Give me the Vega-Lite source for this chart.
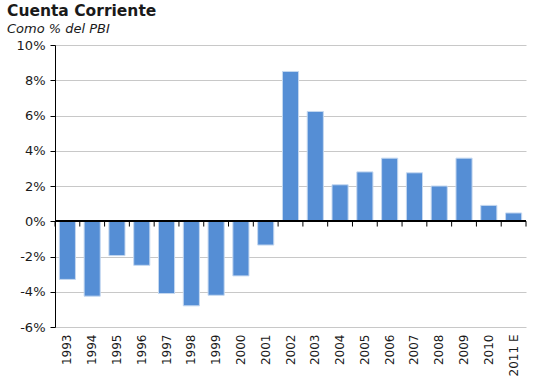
{
  "$schema": "https://vega.github.io/schema/vega-lite/v6.json",
  "width": 471,
  "height": 282,
  "autosize": "none",
  "padding": {"left": 55, "top": 45, "right": 7, "bottom": 63},
  "background": "white",
  "title": {
    "text": "Cuenta Corriente",
    "subtitle": "Como % del PBI",
    "anchor": "start",
    "frame": "group",
    "dx": -48,
    "offset": 3,
    "font": "DejaVu Sans",
    "fontSize": 15.5,
    "fontWeight": "bold",
    "color": "#1a1a1a",
    "subtitleFont": "DejaVu Sans",
    "subtitleFontSize": 13,
    "subtitleFontStyle": "italic",
    "subtitleColor": "#1a1a1a",
    "subtitlePadding": 4
  },
  "config": {
    "view": {"stroke": null},
    "axis": {"labelFont": "DejaVu Sans", "labelFontSize": 12, "labelColor": "#1a1a1a"}
  },
  "data": {
    "values": [
      {"year": "1993", "value": -3.3},
      {"year": "1994", "value": -4.25},
      {"year": "1995", "value": -1.95},
      {"year": "1996", "value": -2.5},
      {"year": "1997", "value": -4.1},
      {"year": "1998", "value": -4.8},
      {"year": "1999", "value": -4.2},
      {"year": "2000", "value": -3.1},
      {"year": "2001", "value": -1.35},
      {"year": "2002", "value": 8.5},
      {"year": "2003", "value": 6.23},
      {"year": "2004", "value": 2.07},
      {"year": "2005", "value": 2.8},
      {"year": "2006", "value": 3.58},
      {"year": "2007", "value": 2.75},
      {"year": "2008", "value": 2.0},
      {"year": "2009", "value": 3.58},
      {"year": "2010", "value": 0.9},
      {"year": "2011 E", "value": 0.47}
    ]
  },
  "encoding": {
    "x": {
      "field": "year", "type": "nominal", "sort": null,
      "scale": {"paddingInner": 0, "paddingOuter": 0},
      "axis": {"title": null, "domain": false, "ticks": false, "grid": false, "labelAngle": -90, "labelAlign": "right", "labelBaseline": "middle", "labelPadding": 7, "labelOverlap": false}
    }
  },
  "layer": [
    {
      "mark": {"type": "bar", "width": {"band": 0.65}, "color": "#558ed5", "stroke": "#c5d8f0", "strokeWidth": 1},
      "encoding": {
        "y": {
          "field": "value", "type": "quantitative",
          "scale": {"domain": [-6, 10], "nice": false},
          "axis": {"title": null, "values": [-6, -4, -2, 0, 2, 4, 6, 8, 10], "tickCount": 12, "labelExpr": "datum.value + '%'", "labelOverlap": false, "labelFontSize": 13, "domainColor": "#000000", "tickColor": "#000000", "tickSize": 5, "labelPadding": 5, "gridColor": "#c8c8c8", "gridWidth": 1}
        }
      }
    },
    {
      "mark": {"type": "rule", "color": "#000000", "strokeWidth": 1},
      "encoding": {
        "x": {"field": "year", "type": "nominal", "sort": null, "bandPosition": 0},
        "y": {"datum": 0},
        "y2": {"datum": -0.3}
      }
    },
    {
      "transform": [{"filter": "datum.year == '2011 E'"}],
      "mark": {"type": "rule", "color": "#000000", "strokeWidth": 1},
      "encoding": {
        "x": {"field": "year", "type": "nominal", "sort": null, "bandPosition": 1},
        "y": {"datum": 0},
        "y2": {"datum": -0.3}
      }
    },
    {
      "mark": {"type": "rule", "color": "#000000", "strokeWidth": 1},
      "encoding": {
        "x": null,
        "y": {"datum": 0}
      }
    }
  ]
}
